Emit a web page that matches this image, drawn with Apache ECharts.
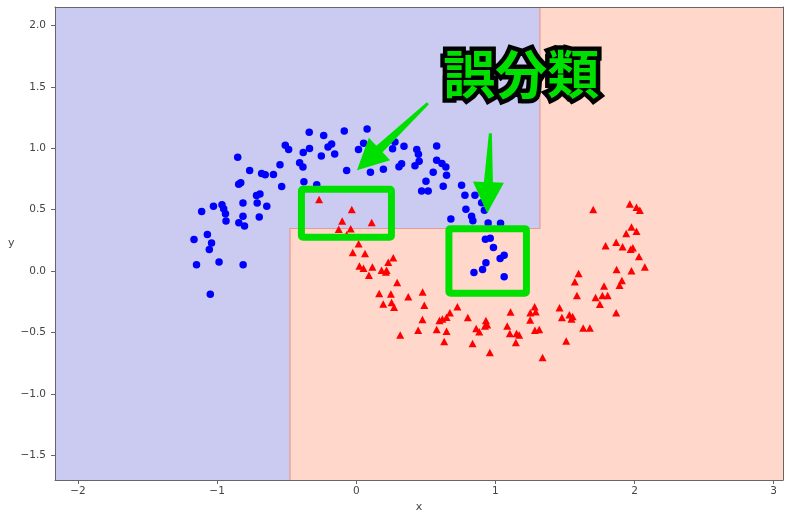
<!DOCTYPE html>
<html><head><meta charset="utf-8">
<script src="https://cdn.jsdelivr.net/npm/echarts@6/dist/echarts.min.js"></script>
<style>html,body{margin:0;padding:0;background:#fff}#c{width:800px;height:518px}</style>
</head><body><div id="c"></div><script>
// axis ranges and ticks
const xRange = [-2.165, 3.067];
const yRange = [-1.699, 2.149];
const xTicks = [-2, -1, 0, 1, 2, 3];
const yTicks = [-1.5, -1.0, -0.5, 0.0, 0.5, 1.0, 1.5, 2.0];

// class 0 (blue circles)
const class0X = [-0.338,-0.234,-0.086,0.078,-0.510,-0.486,-0.336,-0.381,-0.251,-0.203,-0.177,-0.155,0.016,0.053,0.261,0.278,-0.852,-0.766,-0.680,-0.654,-0.595,-0.548,-0.407,-0.383,-0.069,0.102,0.195,0.307,0.326,-0.845,-0.830,-0.717,-0.692,-0.536,-0.376,-0.284,-1.026,-0.965,-0.953,-0.940,-0.936,-1.111,-0.814,-0.712,-0.643,-0.814,-0.844,-0.803,-0.697,-1.166,-1.070,-1.040,-1.056,-0.986,-1.148,-0.813,-1.049,
  0.343,0.435,0.447,0.422,0.452,0.578,0.578,0.616,0.644,0.649,0.553,0.501,0.470,0.517,0.625,0.757,0.781,0.853,0.901,0.788,0.829,0.838,0.680,0.921,0.948,1.037,0.928,0.963,0.986,1.034,1.063,0.932,0.908,0.846,1.063];
const class0Y = [1.130,1.103,1.140,1.157,1.024,0.989,0.998,0.966,0.937,1.011,1.035,0.954,0.989,1.041,0.996,1.051,0.927,0.819,0.794,0.785,0.786,0.866,0.882,0.847,0.819,0.805,0.829,0.850,0.874,0.707,0.720,0.615,0.628,0.689,0.728,0.703,0.528,0.541,0.508,0.467,0.408,0.485,0.555,0.554,0.528,0.447,0.393,0.367,0.441,0.258,0.298,0.230,0.176,0.075,0.053,0.053,-0.187,
  1.016,0.990,0.951,0.858,0.894,1.018,0.902,0.876,0.848,0.780,0.805,0.732,0.653,0.653,0.691,0.699,0.618,0.618,0.557,0.504,0.447,0.411,0.424,0.496,0.392,0.390,0.259,0.268,0.193,0.103,0.130,0.069,0.014,-0.011,-0.045];

// class 1 (red triangles)
const class1X = [-0.267,-0.032,-0.101,-0.126,-0.040,0.111,-0.069,0.017,-0.025,0.063,0.023,0.052,0.116,0.091,0.182,0.218,0.230,0.266,0.213,0.294,0.165,0.249,0.194,0.254,0.272,0.316,0.374,0.477,0.489,0.476,0.445,0.578,0.598,0.619,0.649,0.632,0.649,0.673,0.727,0.802,0.836,0.862,0.884,0.932,0.941,0.925,0.960,1.109,1.085,1.104,1.152,1.171,1.147,1.251,1.282,1.290,1.250,1.284,1.315,1.339,1.461,1.478,1.532,1.555,1.547,1.509,1.631,1.679,1.598,1.571,1.586,1.720,1.751,1.781,1.769,1.807,1.868,1.871,1.909,1.892,1.978,2.074,2.032,1.792,1.868,1.914,1.972,1.988,1.940,2.014,1.978,1.703,1.966,2.014,2.038];
const class1Y = [0.583,0.502,0.408,0.341,0.346,0.396,0.297,0.222,0.152,0.144,0.041,0.024,0.033,-0.033,0.008,0.008,0.073,0.110,-0.006,-0.093,-0.181,-0.185,-0.268,-0.254,-0.293,-0.520,-0.209,-0.169,-0.278,-0.393,-0.480,-0.474,-0.402,-0.389,-0.489,-0.573,-0.374,-0.339,-0.290,-0.376,-0.588,-0.466,-0.493,-0.401,-0.435,-0.447,-0.661,-0.332,-0.447,-0.507,-0.507,-0.520,-0.581,-0.339,-0.290,-0.331,-0.398,-0.480,-0.474,-0.702,-0.297,-0.376,-0.354,-0.368,-0.390,-0.569,-0.463,-0.463,-0.019,-0.087,-0.199,-0.215,-0.270,-0.120,-0.198,-0.198,-0.339,0.014,-0.076,-0.114,0.004,0.033,0.120,0.206,0.236,0.198,0.179,0.191,0.307,0.324,0.360,0.502,0.547,0.520,0.496];

// decision tree split thresholds
const splitX1 = -0.476;
const splitY = 0.347;
const splitX2 = 1.32;

// annotations (data coords)
const boxes = [[-0.394, 0.667, 0.253, 0.276], [0.666, 0.346, 1.223, -0.179]];
const arrows = [[0.515, 1.366, 0.005, 0.821], [0.964, 1.122, 0.941, 0.472]];
const noteText = '誤分類';
const notePos = [1.185, 1.603];

const zip = (a, b) => a.map((v, i) => [v, b[i]]);
const fmt = (d) => (v) => (v < 0 ? '\u2212' : '') + Math.abs(v).toFixed(d);

const chart = echarts.init(document.getElementById('c'), null, {renderer: 'canvas'});
const textColor = '#444';
const axisColor = '#666';
const font = 'DejaVu Sans';

function arrowPoints(t, h) {
  const dx = h[0] - t[0], dy = h[1] - t[1];
  const len = Math.hypot(dx, dy);
  const ux = dx / len, uy = dy / len;
  const nx = -uy, ny = ux;
  const headLen = 31, headHalf = 15.5, sT = 1.5, sB = 4.5;
  const b = [h[0] - ux * headLen, h[1] - uy * headLen];
  return [
    [t[0] + nx * sT, t[1] + ny * sT],
    [b[0] + nx * sB, b[1] + ny * sB],
    [b[0] + nx * headHalf, b[1] + ny * headHalf],
    [h[0], h[1]],
    [b[0] - nx * headHalf, b[1] - ny * headHalf],
    [b[0] - nx * sB, b[1] - ny * sB],
    [t[0] - nx * sT, t[1] - ny * sT]
  ];
}

const green = '#00e000';

chart.setOption({
  animation: false,
  grid: {left: 55, right: 17, top: 7, bottom: 38, show: true, backgroundColor: '#cbcbf2', borderWidth: 0},
  xAxis: [{
    type: 'value', min: xRange[0], max: xRange[1], z: 10, position: 'bottom',
    name: 'x', nameLocation: 'middle', nameGap: 22,
    nameTextStyle: {color: textColor, fontFamily: font, fontSize: 11},
    axisLine: {show: true, onZero: false, lineStyle: {color: axisColor, width: 1}},
    axisTick: {show: true, length: 4, customValues: xTicks, lineStyle: {color: axisColor}},
    axisLabel: {customValues: xTicks, formatter: fmt(0), color: textColor, fontFamily: font, fontSize: 10.5, margin: 6},
    splitLine: {show: false}
  }, {
    type: 'value', position: 'top', min: xRange[0], max: xRange[1], z: 10,
    axisLine: {show: true, onZero: false, lineStyle: {color: axisColor, width: 1}},
    axisTick: {show: false}, axisLabel: {show: false}, splitLine: {show: false}
  }],
  yAxis: [{
    type: 'value', min: yRange[0], max: yRange[1], z: 10, position: 'left',
    name: 'y', nameLocation: 'middle', nameGap: 40, nameRotate: 0,
    nameTextStyle: {color: textColor, fontFamily: font, fontSize: 11},
    axisLine: {show: true, onZero: false, lineStyle: {color: axisColor, width: 1}},
    axisTick: {show: true, length: 4, customValues: yTicks, lineStyle: {color: axisColor}},
    axisLabel: {customValues: yTicks, formatter: fmt(1), color: textColor, fontFamily: font, fontSize: 10.5, margin: 9},
    splitLine: {show: false}
  }, {
    type: 'value', position: 'right', min: yRange[0], max: yRange[1], z: 10,
    axisLine: {show: true, onZero: false, lineStyle: {color: axisColor, width: 1}},
    axisTick: {show: false}, axisLabel: {show: false}, splitLine: {show: false}
  }],
  series: [
    {
      type: 'custom', z: 1, silent: true,
      data: [[splitX1, splitY]],
      renderItem: (params, api) => {
        const pts = [[splitX1, yRange[0]], [xRange[1], yRange[0]], [xRange[1], yRange[1]],
                     [splitX2, yRange[1]], [splitX2, splitY], [splitX1, splitY]].map(p => api.coord(p));
        const edge = [[splitX1, yRange[0]], [splitX1, splitY], [splitX2, splitY], [splitX2, yRange[1]]].map(p => api.coord(p));
        return {type: 'group', children: [
          {type: 'polygon', shape: {points: pts}, style: {fill: '#ffd7cb'}},
          {type: 'polyline', shape: {points: edge}, style: {stroke: '#e59a95', lineWidth: 1.2, fill: null}}
        ]};
      }
    },
    {
      type: 'scatter', z: 3, data: zip(class0X, class0Y),
      symbol: 'circle', symbolSize: 7.5, itemStyle: {color: '#0000ff', opacity: 1}
    },
    {
      type: 'scatter', z: 3, data: zip(class1X, class1Y),
      symbol: 'triangle', symbolSize: [8, 7.5], itemStyle: {color: '#ff0000', opacity: 1}
    },
    {
      type: 'custom', z: 5, silent: true, clip: false,
      data: boxes,
      renderItem: (params, api) => {
        const a = api.coord([api.value(0), api.value(1)]);
        const b = api.coord([api.value(2), api.value(3)]);
        return {type: 'rect', shape: {x: a[0], y: a[1], width: b[0] - a[0], height: b[1] - a[1], r: 1.5},
          style: {fill: null, stroke: green, lineWidth: 7, lineJoin: 'round'}};
      }
    },
    {
      type: 'custom', z: 5, silent: true, clip: false,
      data: arrows,
      renderItem: (params, api) => {
        const t = api.coord([api.value(0), api.value(1)]);
        const h = api.coord([api.value(2), api.value(3)]);
        return {type: 'polygon', shape: {points: arrowPoints(t, h)}, style: {fill: green}};
      }
    },
    {
      type: 'custom', z: 6, silent: true, clip: false,
      data: [notePos],
      renderItem: (params, api) => {
        const p = api.coord([api.value(0), api.value(1)]);
        return {type: 'text', x: p[0], y: p[1], style: {
          text: noteText, fill: green, stroke: '#000', lineWidth: 9, lineJoin: 'round',
          fontSize: 52, fontWeight: 'bold', fontFamily: 'Noto Sans CJK JP',
          align: 'center', verticalAlign: 'middle'
        }};
      }
    }
  ]
});
</script></body></html>
